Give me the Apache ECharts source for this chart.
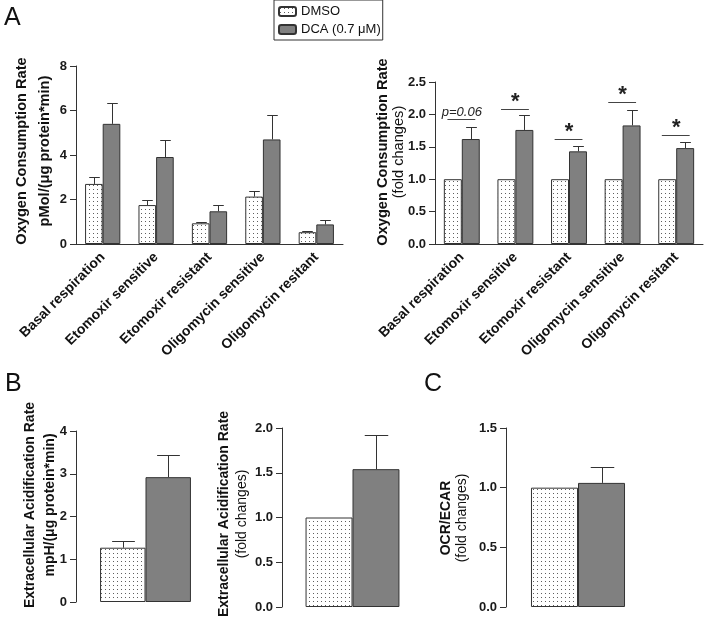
<!DOCTYPE html>
<html><head><meta charset="utf-8">
<script src="https://cdn.jsdelivr.net/npm/echarts@6/dist/echarts.min.js"></script>
<style>html,body{margin:0;padding:0;background:#fff}#c{width:708px;height:624px}</style>
</head><body><div id="c"></div>
<script>
// ---- data ----
const categories = ['Basal respiration','Etomoxir sensitive','Etomoxir resistant','Oligomycin sensitive','Oligomycin resitant'];
const seriesNames = ['DMSO','DCA (0.7 \u03bcM)'];
// Panel A left: OCR absolute
const ocrDMSO = [2.7, 1.75, 0.93, 2.13, 0.53];
const ocrDMSOSem = [0.3, 0.23, 0.07, 0.25, 0.07];
const ocrDCA = [5.4, 3.91, 1.47, 4.7, 0.88];
const ocrDCASem = [0.95, 0.76, 0.27, 1.08, 0.18];
// Panel A right: OCR fold
const ocrFoldDMSO = [1, 1, 1, 1, 1];
const ocrFoldDCA = [1.62, 1.76, 1.43, 1.83, 1.48];
const ocrFoldDCASem = [0.19, 0.23, 0.09, 0.24, 0.10];
const sigLevels = [1.93, 2.09, 1.62, 2.19, 1.68];
const sigLabels = ['p=0.06', '*', '*', '*', '*'];
// Panel B
const ecarDMSO = [1.27], ecarDMSOSem = [0.15];
const ecarDCA = [2.92], ecarDCASem = [0.53];
const ecarFoldDMSO = [1.0];
const ecarFoldDCA = [1.54], ecarFoldDCASem = [0.38];
// Panel C
const ratioDMSO = [1.0];
const ratioDCA = [1.04], ratioDCASem = [0.13];
// axis ticks
const yA1 = {min:0, max:8, interval:2};
const yA2 = {min:0, max:2.5, interval:0.5};
const yB1 = {min:0, max:4, interval:1};
const yB2 = {min:0, max:2, interval:0.5};
const yC  = {min:0, max:1.5, interval:0.5};

// ---- styling ----
const FONT = '"Liberation Sans", Arial, Helvetica, sans-serif';
const pc = document.createElement('canvas'); pc.width = 4; pc.height = 4;
const pctx = pc.getContext('2d');
pctx.fillStyle = '#ffffff'; pctx.fillRect(0,0,4,4);
pctx.fillStyle = '#5e5e5e'; pctx.fillRect(1,1,1,1);
const dotFill = {image: pc, repeat: 'repeat'};
const greyFill = '#808080';
const edge = '#333333';

const grids = [
  {left:76, top:66, width:267, height:178},
  {left:435, top:82, width:268, height:162},
  {left:76, top:431, width:139, height:171},
  {left:282, top:428, width:141, height:179},
  {left:506, top:428, width:144, height:179}
];
const gaps = [0.34, 0.33, 0.346, 0.334, 0.347];
const capFrac = [0.6, 0.6, 0.5, 0.5, 0.5];

function yAxis(i, r, dec) {
  return {type:'value', gridIndex:i, min:r.min, max:r.max, interval:r.interval,
    axisLine:{show:true, lineStyle:{color:edge, width:1}},
    axisTick:{show:true, length:6, lineStyle:{color:edge}},
    splitLine:{show:false},
    axisLabel:{margin:9, fontFamily:FONT, fontWeight:'bold', fontSize:13, color:'#1a1a1a',
      formatter: v => dec ? v.toFixed(1) : String(v)}};
}
function xAxis(i, cats, showLine, showLabels) {
  return {type:'category', gridIndex:i, data:cats,
    axisLine:{show:showLine, lineStyle:{color:edge, width:1}},
    axisTick:{show:false},
    axisLabel:{show:showLabels, interval:0, rotate:45, margin:11, fontFamily:FONT, fontWeight:'bold', fontSize:14, color:'#111'}};
}
function bar(i, which, data) {
  return {type:'bar', name:seriesNames[which], xAxisIndex:i, yAxisIndex:i, data:data,
    barGap:'0%', barCategoryGap:(gaps[i]*100)+'%',
    itemStyle:{color: which === 0 ? dotFill : greyFill, borderColor:edge, borderWidth:1},
    emphasis:{disabled:true}, animation:false};
}
function err(i, which, vals, sems) {
  return {type:'custom', xAxisIndex:i, yAxisIndex:i, z:5, animation:false, silent:true,
    data: vals.map((v, k) => [k, v, sems[k]]),
    renderItem: function(params, api) {
      const ci = api.value(0), v = api.value(1), s = api.value(2);
      const band = api.size([1, 0])[0];
      const bw = band * (1 - gaps[i]) / 2;
      const cx = Math.round(api.coord([ci, 0])[0] + (which === 0 ? -bw/2 : bw/2)) + 0.5;
      const yV = api.coord([ci, v])[1];
      const yT = Math.round(api.coord([ci, v + s])[1]) + 0.5;
      const cap = bw * capFrac[i] / 2;
      const st = {stroke:edge, lineWidth:1};
      return {type:'group', children:[
        {type:'line', shape:{x1:cx, y1:yV, x2:cx, y2:yT}, style:st},
        {type:'line', shape:{x1:cx - cap, y1:yT, x2:cx + cap, y2:yT}, style:st}
      ]};
    }};
}
function sig(i) {
  return {type:'custom', xAxisIndex:i, yAxisIndex:i, z:6, animation:false, silent:true,
    data: sigLevels.map((v, k) => [k, v]),
    renderItem: function(params, api) {
      const ci = api.value(0), v = api.value(1);
      const band = api.size([1, 0])[0];
      const bw = band * (1 - gaps[i]) / 2;
      const cx = api.coord([ci, 0])[0];
      const y = Math.round(api.coord([ci, v])[1]) + 0.5;
      const lbl = sigLabels[params.dataIndex];
      const isStar = lbl === '*';
      return {type:'group', children:[
        {type:'line', shape:{x1:cx - 0.8*bw, y1:y, x2:cx + 0.75*bw, y2:y}, style:{stroke:'#444', lineWidth:1}},
        {type:'text', x:cx, y: isStar ? y - 19 : y - 1,
          style:{text:lbl, align:'center', verticalAlign: isStar ? 'top' : 'bottom',
            font: isStar ? 'bold 22px ' + FONT : 'italic 13px ' + FONT, fill:'#222'}}
      ]};
    }};
}

function vtext(x, y, text, bold, size) {
  return {type:'text', x:x, y:y, rotation:Math.PI/2,
    style:{text:text, align:'center', verticalAlign:'middle',
      font:(bold ? 'bold ' : '') + size + 'px ' + FONT, fill:'#111'}};
}
function letter(x, y, t) {
  return {type:'text', x:x, y:y, style:{text:t, font:'25px ' + FONT, fill:'#111', verticalAlign:'top'}};
}

const option = {
  backgroundColor:'#fff',
  animation:false,
  legend:{left:274, top:0, orient:'vertical', data:seriesNames,
    itemWidth:17, itemHeight:9, itemGap:5, padding:[5,2,4,4],
    borderColor:edge, borderWidth:1,
    textStyle:{fontFamily:FONT, fontSize:13, color:'#111'},
    selectedMode:false},
  grid: grids.map(g => Object.assign({containLabel:false}, g)),
  xAxis:[
    xAxis(0, categories, true, true),
    xAxis(1, categories, true, true),
    xAxis(2, [''], false, false),
    xAxis(3, [''], false, false),
    xAxis(4, [''], false, false)
  ],
  yAxis:[yAxis(0, yA1, false), yAxis(1, yA2, true), yAxis(2, yB1, false), yAxis(3, yB2, true), yAxis(4, yC, true)],
  series:[
    bar(0, 0, ocrDMSO), bar(0, 1, ocrDCA), err(0, 0, ocrDMSO, ocrDMSOSem), err(0, 1, ocrDCA, ocrDCASem),
    bar(1, 0, ocrFoldDMSO), bar(1, 1, ocrFoldDCA), err(1, 1, ocrFoldDCA, ocrFoldDCASem), sig(1),
    bar(2, 0, ecarDMSO), bar(2, 1, ecarDCA), err(2, 0, ecarDMSO, ecarDMSOSem), err(2, 1, ecarDCA, ecarDCASem),
    bar(3, 0, ecarFoldDMSO), bar(3, 1, ecarFoldDCA), err(3, 1, ecarFoldDCA, ecarFoldDCASem),
    bar(4, 0, ratioDMSO), bar(4, 1, ratioDCA), err(4, 1, ratioDCA, ratioDCASem)
  ],
  graphic:[
    letter(4, 6, 'A'), letter(5, 372, 'B'), letter(424, 372, 'C'),
    vtext(22, 151, 'Oxygen Consumption Rate', true, 14.6),
    vtext(45, 151, 'pMol/(\u03bcg protein*min)', true, 14.6),
    vtext(383, 152, 'Oxygen Consumption Rate', true, 14.6),
    vtext(399, 152, '(fold changes)', false, 14.6),
    vtext(30, 505, 'Extracellular Acidification Rate', true, 14),
    vtext(50, 505, 'mpH/(\u03bcg protein*min)', true, 14),
    vtext(224, 514, 'Extracellular Acidification Rate', true, 14),
    vtext(242, 514, '(fold changes)', false, 14),
    vtext(446, 518, 'OCR/ECAR', true, 14),
    vtext(462, 518, '(fold changes)', false, 14)
  ]
};
echarts.init(document.getElementById('c'), null, {renderer:'canvas'}).setOption(option);
</script></body></html>
